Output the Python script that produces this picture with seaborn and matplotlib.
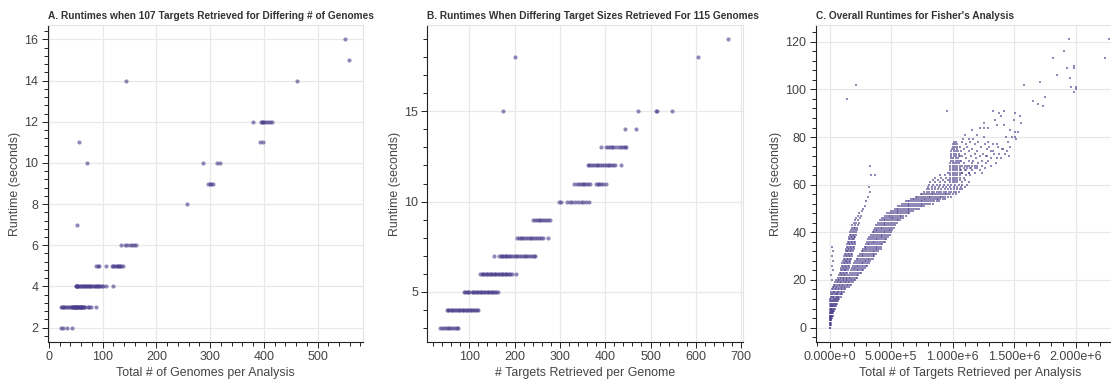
import numpy as np
import pandas as pd
import matplotlib
matplotlib.use("Agg")
import matplotlib.pyplot as plt
import seaborn as sns
from matplotlib.ticker import MultipleLocator, FuncFormatter

# ---------------- Panel A: 107 targets, differing # of genomes ----------------
a_genomes = [23, 27, 33, 42,
             22, 24, 26, 28, 30, 33, 36, 39, 41, 43, 44, 45, 46, 47, 48, 49, 50, 51, 52, 53,
             54, 55, 56, 57, 58, 59, 60, 61, 62, 64, 66, 67, 73, 75, 78, 88,
             50, 51, 52, 53, 54, 55, 57, 59, 61, 63, 65, 67, 69, 71, 73, 75, 77, 79, 81, 83,
             85, 87, 89, 91, 93, 95, 98, 100, 107, 119,
             88, 91, 93, 107, 117, 120, 122, 124, 126, 128, 130, 132, 134, 137,
             134, 142, 146, 150, 154, 158, 163,
             53, 257, 296, 299, 302, 305,
             71, 287, 312, 319,
             56, 393, 399,
             380, 395, 397, 399, 401, 404, 407, 411, 415,
             143, 461, 558, 551]
a_runtime = [2, 2, 2, 2] + [3] * 36 + [4] * 30 + [5] * 14 + [6] * 7 + [7, 8, 9, 9, 9, 9] + \
            [10] * 4 + [11] * 3 + [12] * 9 + [14, 14, 15, 16]

# ---------------- Panel B: differing target sizes, 115 genomes ----------------
b_targets = [36, 40, 44, 48, 52, 56, 60, 64, 68, 72, 76,
             50, 53, 56, 59, 62, 65, 68, 71, 74, 77, 80, 83, 86, 89, 92, 95, 98, 101, 104,
             107, 110, 113, 116, 120,
             88, 91, 94, 97, 100, 105, 108, 111, 114, 117, 120, 123, 126, 129, 132, 135, 138,
             141, 144, 147, 150, 153, 156, 160, 164,
             124, 127, 130, 133, 136, 139, 142, 145, 148, 151, 154, 157, 160, 163, 166, 169,
             172, 175, 178, 181, 184, 187, 190, 194, 202,
             155, 166, 169, 172, 175, 178, 181, 184, 187, 190, 194, 198, 202, 206, 210, 214,
             218, 222, 226, 230, 234, 238, 242, 246,
             205, 209, 213, 217, 221, 225, 229, 233, 237, 241, 245, 249, 253, 258, 263, 273,
             241, 245, 249, 253, 257, 261, 265, 270, 274, 278,
             297, 302, 315, 322, 327, 333, 340, 346, 352, 358, 365,
             330, 338, 342, 346, 350, 354, 358, 362, 366, 379, 383, 387, 391, 395, 401,
             361, 365, 369, 373, 377, 381, 385, 389, 393, 397, 401, 405, 409, 413, 417, 422, 435,
             390, 402, 406, 410, 414, 418, 424, 431, 435, 439, 443, 446,
             444, 467,
             174, 472, 512, 514, 548,
             201, 605, 672]
b_runtime = [3] * 11 + [4] * 24 + [5] * 25 + [6] * 25 + [7] * 24 + [8] * 16 + [9] * 10 + \
            [10] * 11 + [11] * 15 + [12] * 17 + [13] * 12 + [14] * 2 + [15] * 5 + [18, 18, 19]

# ---------------- Panel C: overall runtimes (targets in units of 10,000) ----------------
c_row_runtime = list(range(0, 79))
c_row_targets = [
    [0, 0.3],
    [0, 0.4, 0.8],
    [0, 0.5, 1],
    [0, 0.5, 1, 1.5],
    [0, 0.5, 1, 1.5, 2],
    [0, 0.5, 1, 1.5, 2, 2.5],
    [0, 0.6, 1.2, 1.8, 2.4, 3],
    [0.2, 0.8, 1.4, 2, 2.6, 3.2, 3.8],
    [0.2, 0.9, 1.6, 2.3, 3, 3.7, 4.4],
    [0.3, 1, 1.7, 2.4, 3.1, 3.8, 4.5, 5],
    [0.4, 1.2, 2, 2.8, 3.6, 4.4, 5.2, 5.8],
    [0.5, 1.3, 2.1, 2.9, 3.7, 4.5, 5.3, 6.1, 6.8],
    [0.7, 1.6, 2.5, 3.4, 4.3, 5.2, 6.1, 7, 7.8],
    [1, 2, 3, 4, 5, 6, 7, 8, 9],
    [1.2, 2.2, 3.2, 4.2, 5.2, 6.2, 7.2, 8.2, 9.2, 10.2],
    [1.5, 2.6, 3.7, 4.8, 5.9, 7, 8.1, 9.2, 10.3, 11.4],
    [2, 3.2, 4.4, 5.6, 6.8, 8, 9.2, 10.4, 11.6, 12.8],
    [2.5, 3.8, 5.1, 6.4, 7.7, 9, 10.3, 11.6, 12.9, 14.2, 15.5],
    [3.5, 4.8, 6.1, 7.4, 8.7, 10, 11.3, 12.6, 13.9, 15.2, 16.5, 17.5],
    [4.5, 5.8, 7.1, 8.4, 9.7, 11, 12.3, 13.6, 14.9, 16.2, 17.5, 18.8],
    [5.5, 6.8, 8.1, 9.4, 10.7, 12, 13.3, 14.6, 15.9, 17.2, 18.5, 19.8, 21],
    [7, 8.2, 9.4, 10.6, 11.8, 13, 14, 15.5, 17, 18.5, 20, 21.5, 22.5],
    [8, 9.2, 10.4, 11.6, 12.8, 14, 16, 17.5, 19, 20.5, 22, 23.5],
    [8.5, 9.7, 10.9, 12.1, 13.3, 14.5, 17, 18.5, 20, 21.5, 23, 24.5, 25.5],
    [9, 10.2, 11.4, 12.6, 13.8, 15, 17.5, 19, 20.5, 22, 23.5, 25, 26.5, 27.5],
    [9.5, 10.7, 11.9, 13.1, 14.3, 15.5, 18, 19.5, 21, 22.5, 24, 25.5, 27, 28.5],
    [10, 11.2, 12.4, 13.6, 14.8, 16, 19, 20.5, 22, 23.5, 25, 26.5, 28, 29.5, 30.5],
    [10.5, 11.7, 12.9, 14.1, 15.3, 16.5, 20, 21.5, 23, 24.5, 26, 27.5, 29, 30.5, 32],
    [11, 12.2, 13.4, 14.6, 15.8, 17, 21, 22.5, 24, 25.5, 27, 28.5, 30, 31.5, 33],
    [11.5, 12.7, 13.9, 15.1, 16.3, 17.5, 22, 23.5, 25, 26.5, 28, 29.5, 31, 32.5, 34, 35],
    [12, 13.2, 14.4, 15.6, 16.8, 18, 23, 24.5, 26, 27.5, 29, 30.5, 32, 33.5, 35, 36.5],
    [12.5, 13.7, 14.9, 16.1, 17.3, 18.5, 24.5, 26, 27.5, 29, 30.5, 32, 33.5, 35, 36.5, 38],
    [13, 14.2, 15.4, 16.6, 17.8, 19, 26, 27.5, 29, 30.5, 32, 33.5, 35, 36.5, 38, 39.5],
    [13.5, 14.7, 15.9, 17.1, 18.3, 19.5, 27, 28.5, 30, 31.5, 33, 34.5, 36, 37.5, 39, 40.5, 41.5],
    [14, 15.2, 16.4, 17.6, 18.8, 20, 28.5, 30, 31.5, 33, 34.5, 36, 37.5, 39, 40.5, 42],
    [14.5, 15.7, 16.9, 18.1, 19.3, 20.5, 29.5, 31, 32.5, 34, 35.5, 37, 38.5, 40, 41.5, 43],
    [15, 16.2, 17.4, 18.6, 19.8, 21, 30.5, 32, 33.5, 35, 36.5, 38, 39.5, 41, 42.5, 44, 45],
    [15.5, 16.7, 17.9, 19.1, 20.3, 31.5, 33, 34.5, 36, 37.5, 39, 40.5, 42, 43.5, 45, 46],
    [16, 17.2, 18.4, 19.6, 20.8, 32.5, 34, 35.5, 37, 38.5, 40, 41.5, 43, 44.5, 46, 47.5],
    [16.5, 17.7, 18.9, 20.1, 21.3, 34, 35.5, 37, 38.5, 40, 41.5, 43, 44.5, 46, 47.5, 49],
    [17, 18.5, 20, 21.5, 35, 36.5, 38, 39.5, 41, 42.5, 44, 45.5, 47, 48.5, 50],
    [17.5, 19, 20.5, 22, 36, 37.5, 39, 40.5, 42, 43.5, 45, 46.5, 48, 49.5, 51],
    [18, 19.5, 21, 22.5, 37, 38.5, 40, 41.5, 43, 44.5, 46, 47.5, 49, 50.5, 52.5],
    [18.5, 20.5, 23, 38, 39.5, 41, 42.5, 44, 45.5, 47, 48.5, 50, 51.5, 53.5],
    [19.5, 21.5, 24, 39.5, 41, 42.5, 44, 45.5, 47, 48.5, 50, 51.5, 53, 55],
    [20.5, 23, 41, 42.5, 44, 45.5, 47, 48.5, 50, 51.5, 53, 54.5, 56, 57.5],
    [21.5, 24.5, 43, 44.5, 46, 47.5, 49, 50.5, 52, 53.5, 55, 56.5, 58, 59.5],
    [23, 25.5, 45, 46.5, 48, 49.5, 51, 52.5, 54, 55.5, 57, 58.5, 60, 62],
    [24, 47, 48.5, 50, 51.5, 53, 54.5, 56, 57.5, 59, 60.5, 62, 63.5, 65],
    [26, 50, 51.5, 53, 54.5, 56, 57.5, 59, 60.5, 62, 63.5, 65, 66.5, 68],
    [27.5, 53, 54.5, 56, 57.5, 59, 60.5, 62, 63.5, 65, 66.5, 68, 69.5, 71, 72.5],
    [29, 56, 57.5, 59, 60.5, 62, 63.5, 65, 66.5, 68, 69.5, 71, 72.5, 74, 75.5, 77],
    [59, 60.5, 62, 63.5, 65, 66.5, 68, 69.5, 71, 72.5, 74, 75.5, 77, 78.5, 80, 82, 84],
    [30, 62, 63.5, 65, 66.5, 68, 69.5, 71, 72.5, 74, 75.5, 77, 78.5, 80, 81.5, 83, 85, 87, 89],
    [66, 67.5, 69, 70.5, 72, 73.5, 75, 76.5, 78, 79.5, 81, 82.5, 84, 85.5, 87, 88.5, 90, 92, 94],
    [31, 70, 71.5, 73, 74.5, 76, 77.5, 79, 80.5, 82, 83.5, 85, 86.5, 88, 89.5, 91, 92.5, 94, 96, 99],
    [74, 75.5, 77, 78.5, 80, 81.5, 83, 84.5, 86, 87.5, 89, 90.5, 92, 93.5, 95, 96.5, 98, 100, 103],
    [33, 77, 79, 81, 83, 85, 87, 89, 91, 93, 95, 97, 99, 101, 103, 105],
    [79, 81, 83.5, 86, 88.5, 91, 93.5, 96, 98.5, 101, 103.5, 106, 108],
    [32.5, 80, 83, 86, 89, 92, 95, 98, 101, 104, 107, 110],
    [81, 84, 87, 90, 93, 96, 99, 102, 105, 108, 112],
    [82, 86, 90, 94, 98, 100, 102, 104, 108, 113],
    [84, 88, 92, 96, 98, 100, 102, 104, 106, 110],
    [86, 91, 95, 98, 100, 102, 104, 106, 109],
    [34, 37, 90, 94, 98, 100, 102, 104, 106, 111, 114],
    [96, 98, 100, 102, 104, 106, 108, 113],
    [98, 100, 102, 104, 106, 110],
    [98, 100, 102, 104, 106, 112, 115, 118],
    [33, 98, 100, 102, 104, 106, 110, 113, 116, 120],
    [98, 100, 102, 104, 105.5],
    [98.5, 100.5, 102.5, 104.5, 106],
    [98.5, 100.5, 102.5, 104.5],
    [99, 101, 103, 105, 106],
    [99, 101, 103, 105],
    [99, 101, 103, 104.5],
    [99.5, 101.5, 103.5],
    [100, 102, 104],
    [100, 102, 103.5],
    [101, 103],
]
# sparse points (targets in units of 10,000)
c_extra_targets = [2, 1.5, 2.5, 2, 3, 2, 2.5, 2,
                   108, 114, 121, 129, 111, 118, 126, 133, 106, 112, 123, 137, 109, 116, 128, 140,
                   107, 113, 120, 131, 110, 118, 125, 134, 143, 108, 115, 122, 128, 111, 119, 131,
                   139, 107, 113, 117, 124, 109, 116, 121, 127, 135, 108, 112, 118, 124, 131,
                   109, 114, 120, 126, 107, 111, 116, 122, 108, 113, 118, 124,
                   130, 136, 145, 133, 141, 147, 127, 138, 144, 129, 136, 146,
                   194.3, 227.4, 190.8, 181.8, 223.9, 198.9, 193.2, 198.4, 184.8, 195.4, 196.2,
                   200.5, 200.3, 198.9, 157.7, 171.3, 174.8, 165.4, 169.1, 173.4, 95.4, 132.8,
                   137.4, 142, 150.9, 139.6, 154.5, 134.7, 125.2, 150.1, 155.8, 122.5, 125.2,
                   128.5, 136.1, 142, 146.9, 150.7, 153.1, 115.7, 110.3, 119.8, 125.8, 143.6,
                   148.2, 150.9, 151.7, 108.4, 113, 116.5, 14.6, 21.4]
c_extra_runtime = [20, 22, 24, 26, 28, 30, 32, 34,
                   78, 78, 78, 78, 77, 77, 77, 77, 76, 76, 76, 76, 75, 75, 75, 75,
                   74, 74, 74, 74, 73, 73, 73, 73, 73, 72, 72, 72, 72, 71, 71, 71,
                   71, 70, 70, 70, 70, 69, 69, 69, 69, 69, 68, 68, 68, 68, 68,
                   67, 67, 67, 67, 66, 66, 66, 66, 65, 65, 65, 65,
                   76, 77, 78, 74, 75, 76, 72, 73, 74, 70, 71, 72,
                   121, 121, 116, 113, 113, 110, 109, 109, 106, 105, 101,
                   101, 100, 99, 102, 103, 97, 95, 94, 93, 91, 91,
                   90, 91, 90, 89, 89, 87, 86, 87, 86, 84, 84,
                   84, 85, 85, 83, 82, 82, 83, 81, 81, 80, 80,
                   80, 80, 79, 79, 79, 79, 96, 102]

# ---------------- build frames ----------------
df_a = pd.DataFrame({"genomes": a_genomes, "runtime": a_runtime})
df_b = pd.DataFrame({"targets": b_targets, "runtime": b_runtime})
cx, cy = [], []
for yv, xs in zip(c_row_runtime, c_row_targets):
    for xv in xs:
        cx.append(xv * 1e4)
        cy.append(yv)
for xv, yv in zip(c_extra_targets, c_extra_runtime):
    cx.append(xv * 1e4)
    cy.append(yv)
df_c = pd.DataFrame({"targets": cx, "runtime": cy})

# ---------------- figure ----------------
sns.set_theme(style="white")
plt.rcParams["font.family"] = ["Liberation Sans", "DejaVu Sans"]

W, H = 1111, 380
fig = plt.figure(figsize=(W / 100, H / 100), dpi=100)


def add_axes(left, right, top=25, bottom=342):
    return fig.add_axes([left / W, 1 - bottom / H, (right - left) / W, (bottom - top) / H])


PT_COLOR = "#483D8B"
TXT = "#444444"


def style(ax, xlim, ylim, xmaj, xmin_, ymaj, ymin_, title, xlabel, ylabel):
    ax.set_xlim(*xlim)
    ax.set_ylim(*ylim)
    ax.xaxis.set_major_locator(MultipleLocator(xmaj))
    ax.xaxis.set_minor_locator(MultipleLocator(xmin_))
    ax.yaxis.set_major_locator(MultipleLocator(ymaj))
    ax.yaxis.set_minor_locator(MultipleLocator(ymin_))
    ax.grid(True, which="major", color="#e8e8e8", lw=0.9)
    ax.grid(False, which="minor")
    ax.set_axisbelow(True)
    for s in ["top", "right"]:
        ax.spines[s].set_color("#e5e5e5")
        ax.spines[s].set_linewidth(0.8)
    for s in ["left", "bottom"]:
        ax.spines[s].set_color("#222222")
        ax.spines[s].set_linewidth(0.8)
    ax.tick_params(which="major", direction="out", length=4.5, width=0.7, color="#222222",
                   labelsize=9, labelcolor=TXT, pad=2, left=True, bottom=True)
    ax.tick_params(which="minor", direction="out", length=2.8, width=0.7, color="#222222",
                   left=True, bottom=True)
    ax.set_title(title, loc="left", fontsize=7.3, fontweight="bold", color="#333333", pad=4.5)
    ax.set_xlabel(xlabel, fontsize=8.9, color=TXT, labelpad=3)
    ax.set_ylabel(ylabel, fontsize=8.9, color=TXT, labelpad=2.5)


axA = add_axes(47.5, 363)
sns.scatterplot(data=df_a, x="genomes", y="runtime", ax=axA, color=PT_COLOR, alpha=0.6,
                s=9, linewidth=0, legend=False)
style(axA, (-2.7, 584.7), (1.3, 16.7), 100, 20, 2, 0.4,
      "A. Runtimes when 107 Targets Retrieved for Differing # of Genomes",
      "Total # of Genomes per Analysis", "Runtime (seconds)")

axB = add_axes(427.3, 743)
sns.scatterplot(data=df_b, x="targets", y="runtime", ax=axB, color=PT_COLOR, alpha=0.6,
                s=9, linewidth=0, legend=False)
style(axB, (7.3, 704), (2.2, 19.8), 100, 20, 5, 1,
      "B. Runtimes When Differing Target Sizes Retrieved For 115 Genomes",
      "# Targets Retrieved per Genome", "Runtime (seconds)")

axC = add_axes(815.5, 1124)
sns.scatterplot(data=df_c, x="targets", y="runtime", ax=axC, color=PT_COLOR, alpha=0.6,
                s=1.8, linewidth=0, marker="s", legend=False)
style(axC, (-1.14e5, 2.394e6), (-6.05, 127.05), 5e5, 1e5, 20, 4,
      "C. Overall Runtimes for Fisher's Analysis",
      "Total # of Targets Retrieved per Analysis", "Runtime (seconds)")


def sci(v, pos):
    m, e = f"{v:.3e}".split("e")
    e = int(e)
    return f"{m}e{'+' if e >= 0 else '-'}{abs(e)}"


axC.xaxis.set_major_formatter(FuncFormatter(sci))

fig.savefig("out.png", dpi=100)
